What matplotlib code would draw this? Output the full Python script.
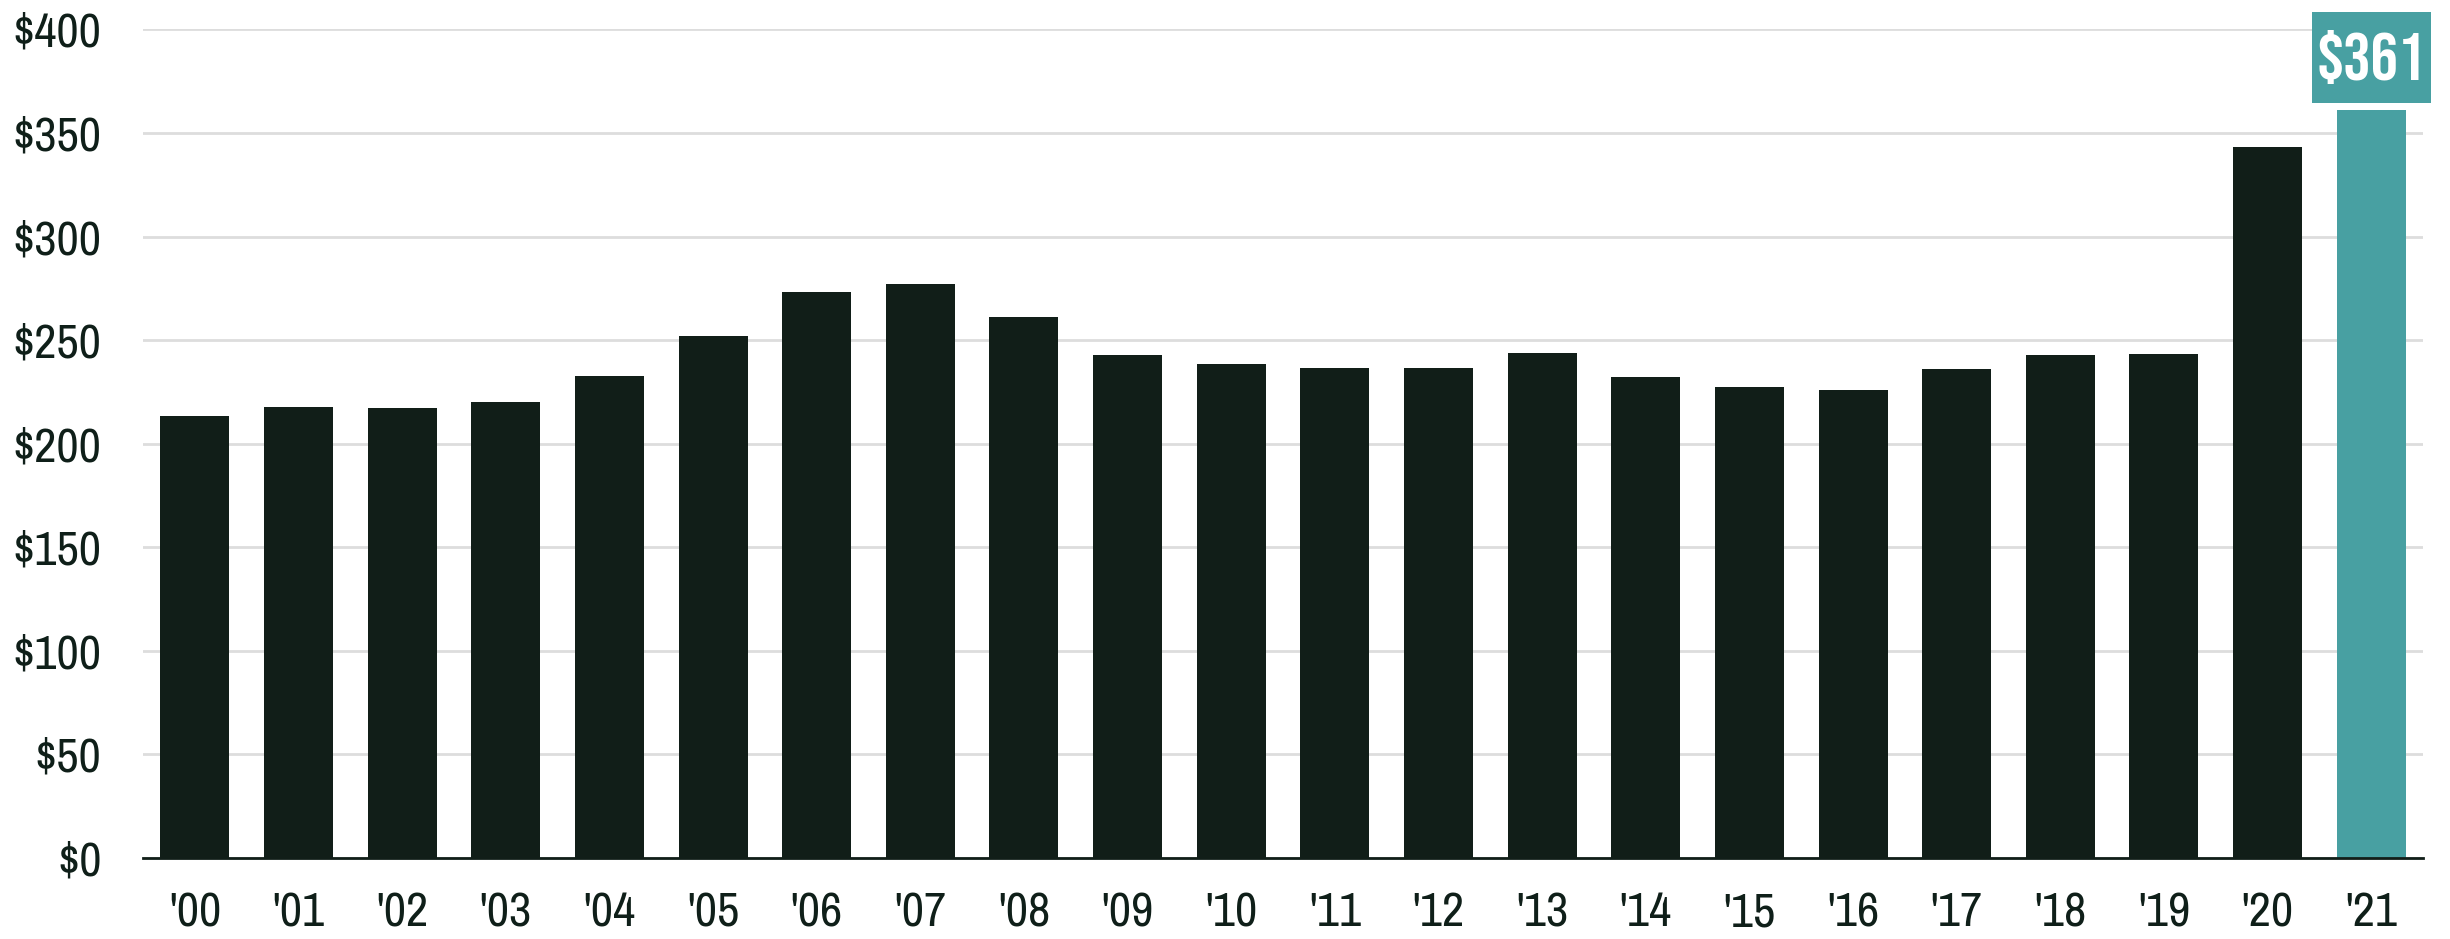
import matplotlib
matplotlib.use('Agg')
import matplotlib.pyplot as plt
from matplotlib.patches import Rectangle
from matplotlib import font_manager

# data
years = ["'00", "'01", "'02", "'03", "'04", "'05", "'06", "'07", "'08", "'09", "'10",
         "'11", "'12", "'13", "'14", "'15", "'16", "'17", "'18", "'19", "'20", "'21"]
values = [213.6, 217.9, 217.4, 220.2, 232.9, 251.9, 273.3, 277.1, 261.2, 242.9, 238.4,
          236.8, 236.4, 243.7, 232.1, 227.3, 226.1, 236.3, 243.0, 243.3, 343.5, 361.0]
yticks = [0, 50, 100, 150, 200, 250, 300, 350, 400]
ytick_labels = ['$' + str(t) for t in yticks]
highlight_label = '$361'

dark = '#111e18'
teal = '#48a0a2'
text_color = '#0f1f19'

installed = {f.name for f in font_manager.fontManager.ttflist}


def pick(options):
    for name in options:
        if name in installed:
            return name
    return 'DejaVu Sans'


narrow = pick(['Liberation Sans Narrow', 'Arimo Narrow', 'Archivo Narrow',
               'Roboto Condensed', 'Asap Condensed'])
display = pick(['Bebas Neue', 'Oswald', 'Anton', 'Asap Condensed'])
plt.rcParams['font.family'] = [narrow, 'DejaVu Sans']

fig = plt.figure(figsize=(24.5, 9.39), dpi=100)
ax = fig.add_axes([0.0584, 0.0863, 0.9306, 0.8823])

colors = [dark] * (len(values) - 1) + [teal]
x = list(range(len(values)))
ax.bar(x, values, width=0.666, color=colors, zorder=3)

ax.set_xlim(-0.5, len(values) - 0.5)
ax.set_ylim(0, 400)
ax.set_yticks(yticks)
ax.set_yticklabels(ytick_labels)
ax.set_xticks(x)
ax.set_xticklabels(years)

ax.grid(axis='y', color='#dddddd', linewidth=2, zorder=0)
for side in ['top', 'right', 'left']:
    ax.spines[side].set_visible(False)
ax.spines['bottom'].set_color(dark)
ax.spines['bottom'].set_linewidth(2)
ax.spines['bottom'].set_zorder(4)

ax.tick_params(axis='both', length=0, labelsize=35, colors=text_color)
ax.tick_params(axis='x', pad=24)
ax.tick_params(axis='y', pad=30)

# highlighted value box above the last bar
last = len(values) - 1
box = Rectangle((last - 0.575, values[-1] + 3.5), 1.15, 44, facecolor=teal,
                edgecolor='none', clip_on=False, zorder=5)
ax.add_patch(box)
ax.text(last, values[-1] + 3.5 + 22, highlight_label, ha='center', va='center',
        fontsize=49, family=display, color='white', zorder=6, clip_on=False)

fig.savefig('out.png', dpi=100)
